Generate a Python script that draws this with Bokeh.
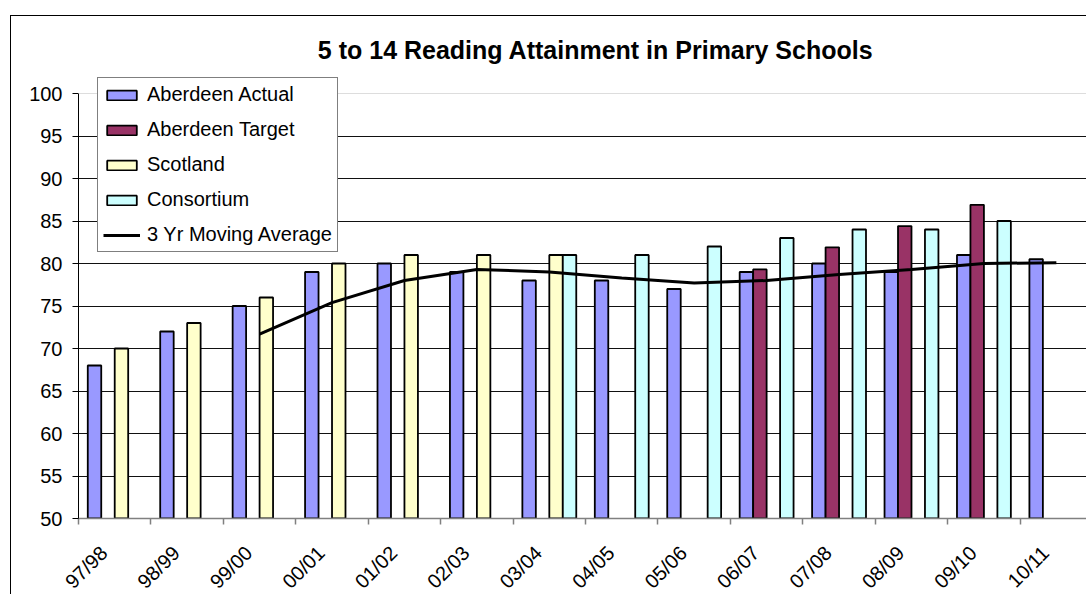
import math
import numpy as np
from bokeh.plotting import figure
from bokeh.models import (Range1d, FixedTicker, Legend, LegendItem, ColumnDataSource,
                          Label, Span)
from bokeh.transform import dodge
from bokeh.embed import file_html
from bokeh.resources import INLINE

# ---- data ----
categories = ["97/98", "98/99", "99/00", "00/01", "01/02", "02/03", "03/04",
              "04/05", "05/06", "06/07", "07/08", "08/09", "09/10", "10/11"]
aberdeen_actual = [68, 72, 75, 79, 80, 79, 78, 78, 77, 79, 80, 79, 81, 80.5]
aberdeen_target = [None, None, None, None, None, None, None, None, None,
                   79.3, 81.9, 84.4, 86.9, None]
scotland = [70, 73, 76, 80, 81, 81, 81, None, None, None, None, None, None, None]
consortium = [None, None, None, None, None, None, 81, 81, 82, 83, 84, 84, 85, None]
moving_avg = [None, None, 71.7, 75.4, 78.0, 79.3, 79.0, 78.3, 77.7, 78.0,
              78.7, 79.3, 80.0, 80.1]
y_ticks = [50, 55, 60, 65, 70, 75, 80, 85, 90, 95, 100]
title_text = "5 to 14 Reading Attainment in Primary Schools"

FONT = "Liberation Sans"
ncat = len(categories)
centers = [i + 0.5 for i in range(ncat)]
bounds = [float(i) for i in range(ncat)]
label_pos = [c - 0.15 for c in centers]   # rotated labels end a little left of centre


def src(vals, key):
    xs = [centers[i] for i, v in enumerate(vals) if v is not None]
    ys = [v for v in vals if v is not None]
    return ColumnDataSource(data={"x": xs, key: ys})


# frame: 502 px tall for 59.06 units (8.5 px per unit), axis drawn only 50..100
p = figure(width=1076, height=602, x_range=Range1d(0, 13.93), y_range=Range1d(50, 109.06),
           output_backend="svg", toolbar_location=None,
           min_border_left=67, min_border_right=0, min_border_top=0, min_border_bottom=100)
p.styles = {"margin-left": "10px", "margin-top": "15px",
            "border-left": "1px solid #000", "border-top": "1px solid #000"}
p.outline_line_color = None
p.background_fill_color = "white"
p.border_fill_color = "white"

# grid
p.xgrid.visible = False
p.ygrid.ticker = FixedTicker(ticks=y_ticks[1:-1])
p.ygrid.grid_line_color = "#111111"
p.ygrid.grid_line_width = 1
p.add_layout(Span(location=y_ticks[-1], dimension="width", line_color="#dddddd", line_width=1))

# bars
bw = 0.186
series = [
    ("Aberdeen Actual", aberdeen_actual, "#9999FF", -1.5),
    ("Aberdeen Target", aberdeen_target, "#993366", -0.5),
    ("Scotland", scotland, "#FFFFCC", 0.5),
    ("Consortium", consortium, "#CCFFFF", 1.5),
]
items = []
for name, vals, col, off in series:
    r = p.vbar(x=dodge("x", off * bw, range=p.x_range), top="top", bottom=y_ticks[0], width=bw,
               source=src(vals, "top"), fill_color=col, line_color="black", line_width=1.8)
    items.append(LegendItem(label=name, renderers=[r]))

rl = p.line(x="x", y="ma", source=src(moving_avg, "ma"), line_color="black", line_width=3)
items.append(LegendItem(label="3 Yr Moving Average", renderers=[rl]))

# axes
xa = p.xaxis[0]
xa.ticker = FixedTicker(ticks=label_pos, minor_ticks=bounds)
xa.major_label_overrides = {c: lab for c, lab in zip(label_pos, categories)}
xa.axis_line_color = "#808080"
xa.axis_line_width = 1.5
xa.major_tick_in = 0
xa.major_tick_out = 0
xa.minor_tick_in = 0
xa.minor_tick_out = 6
xa.minor_tick_line_color = "#808080"
xa.minor_tick_line_width = 1.5
xa.major_label_orientation = math.pi / 4
xa.major_label_standoff = 25
xa.major_label_text_font = FONT
xa.major_label_text_font_size = "20px"
xa.major_label_text_color = "black"

ya = p.yaxis[0]
ya.ticker = FixedTicker(ticks=y_ticks)
ya.bounds = (y_ticks[0], y_ticks[-1])
ya.axis_line_color = "black"
ya.axis_line_width = 1
ya.major_tick_in = 0
ya.major_tick_out = 6
ya.major_tick_line_color = "black"
ya.minor_tick_line_color = None
ya.major_label_standoff = 10
ya.major_label_text_font = FONT
ya.major_label_text_font_size = "20px"
ya.major_label_text_color = "black"

# title
p.add_layout(Label(x=7.14, y=105.06, text=title_text, text_align="center",
                   text_baseline="middle", text_font=FONT, text_font_size="25px",
                   text_font_style="bold", text_color="black"))

legend = Legend(items=items, location=(19, 266))
legend.label_text_font = FONT
legend.label_text_font_size = "20px"
legend.label_text_color = "black"
legend.glyph_width = 37
legend.glyph_height = 12
legend.label_height = 20
legend.label_standoff = 7
legend.spacing = 12
legend.padding = 5
legend.margin = 0
legend.border_line_color = "black"
legend.border_line_width = 1
legend.background_fill_color = "white"
legend.background_fill_alpha = 1
p.add_layout(legend)

open("out.html", "w").write(file_html(p, INLINE))
